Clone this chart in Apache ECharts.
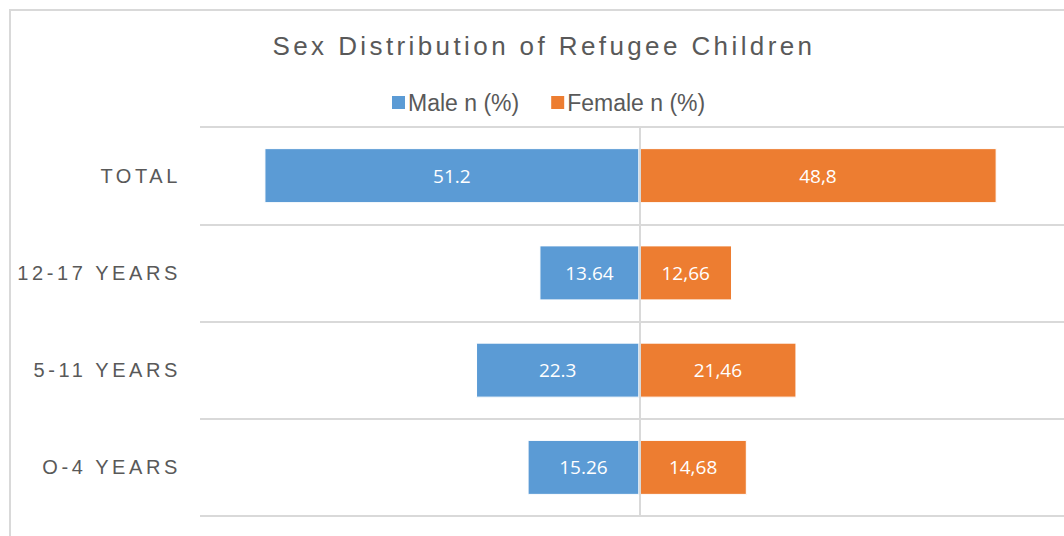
<!DOCTYPE html>
<html>
<head>
<meta charset="utf-8">
<script src="https://cdn.jsdelivr.net/npm/echarts@6/dist/echarts.min.js"></script>
<style>
  html, body { margin: 0; padding: 0; background: #fff; }
  #chart { width: 1064px; height: 536px; }
  /* spaced-out text like the original title and axis labels */
  #chart text[style*="TitleSpaced"] { letter-spacing: 3.4px; }
  #chart text[style*="AxisSpaced"] { letter-spacing: 3.6px; }
</style>
</head>
<body>
<div id="chart"></div>
<script>
const categories = ['O-4 YEARS', '5-11 YEARS', '12-17 YEARS', 'TOTAL'];
const maleValues = [15.26, 22.3, 13.64, 51.2];
const femaleValues = [14.68, 21.46, 12.66, 48.8];

const chart = echarts.init(document.getElementById('chart'), null, {renderer: 'svg'});

chart.setOption({
    animation: false,
    title: {
        text: 'Sex Distribution of Refugee Children',
        left: 539,
        top: 28,
        textAlign: 'center',
        textStyle: {fontFamily: "TitleSpaced, 'Liberation Sans', Arial, sans-serif", fontSize: 26, fontWeight: 'normal', color: '#595959'}
    },
    legend: {
        top: 86,
        left: 385,
        itemWidth: 15,
        itemHeight: 15,
        itemGap: 30,
        icon: 'rect',
        textStyle: {fontFamily: "'Liberation Sans', Arial, sans-serif", fontSize: 23, color: '#595959', padding: [0, 0, 0, -3]}
    },
    grid: {left: 200, right: 0, top: 127, bottom: 20},
    xAxis: {
        type: 'value',
        min: -60,
        max: 58,
        show: false
    },
    yAxis: {
        type: 'category',
        data: categories,
        axisLine: {show: false, onZero: false},
        axisTick: {show: false},
        axisLabel: {fontFamily: "AxisSpaced, 'Liberation Sans', Arial, sans-serif", fontSize: 20, color: '#595959', margin: 19},
        splitLine: {show: true, lineStyle: {color: '#d9d9d9', width: 2}}
    },
    series: [
        {
            name: 'Male n (%)',
            type: 'bar',
            data: maleValues.map(v => -v),
            barWidth: 55,
            barGap: '-100%',
            itemStyle: {color: '#5b9bd5', borderColor: '#fff', borderWidth: 1},
            label: {
                show: true,
                position: 'inside',
                color: '#fff',
                fontSize: 19,
                fontFamily: "'Open Sans', sans-serif",
                formatter: p => String(-p.value)
            },
            markLine: {
                silent: true,
                symbol: 'none',
                label: {show: false},
                lineStyle: {color: '#d9d9d9', width: 2, type: 'solid'},
                data: [{xAxis: 0}]
            }
        },
        {
            name: 'Female n (%)',
            type: 'bar',
            data: femaleValues,
            barWidth: 55,
            itemStyle: {color: '#ed7d31', borderColor: '#fff', borderWidth: 1},
            label: {
                show: true,
                position: 'inside',
                color: '#fff',
                fontSize: 19,
                fontFamily: "'Open Sans', sans-serif",
                formatter: p => String(p.value).replace('.', ',')
            }
        }
    ],
    graphic: [{
        type: 'rect',
        shape: {x: 10, y: 10, width: 1080, height: 560},
        style: {fill: 'none', stroke: '#d9d9d9', lineWidth: 2},
        silent: true,
        z: -1
    }]
});
</script>
</body>
</html>
